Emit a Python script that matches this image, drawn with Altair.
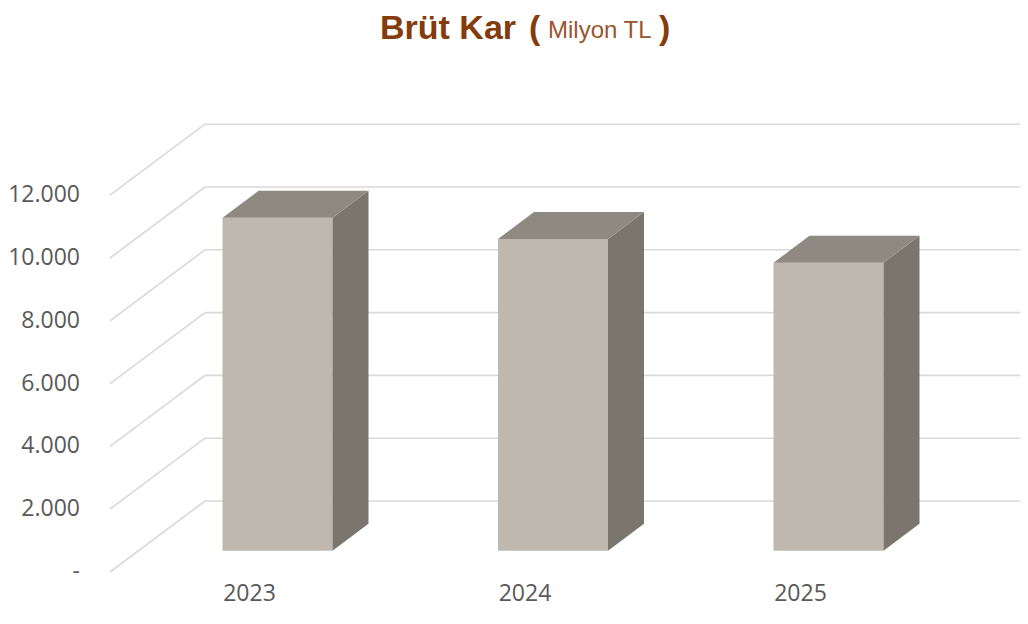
import altair as alt
import pandas as pd

# ---- data ----
years = ["2023", "2024", "2025"]
values = [10600, 9930, 9170]
grid_values = [0, 2000, 4000, 6000, 8000, 10000, 12000]
grid_labels = ["-\u00a0\u00a0", "2.000", "4.000", "6.000", "8.000", "10.000", "12.000"]

# ---- layout / projection constants (style) ----
W, H = 1012, 602
XC0, XSTEP = 277.5, 275.5      # page x of first bar centre, spacing
Y0, PX = 550.7, 0.0314         # page y of bar base, px per unit


def xi(px):
    return (px - XC0) / XSTEP


def yv(py):
    return (Y0 - py) / PX


x_dom = [xi(8), xi(8 + W)]
y_dom = [yv(8 + H), yv(8)]
HALF = 55 / XSTEP
DX = 36 / XSTEP
DY = 27 / PX
FRONT_X, FRONT_OFF = xi(110), yv(572)
BACK_X, BACK_OFF = xi(205), yv(501)

xs = alt.Scale(domain=x_dom, nice=False, zero=False)
ys = alt.Scale(domain=y_dom, nice=False, zero=False)

grid = pd.DataFrame({
    "g": grid_values,
    "label": grid_labels,
})
grid["fx"] = FRONT_X
grid["fy"] = grid["g"] + FRONT_OFF
grid["bx"] = BACK_X
grid["by"] = grid["g"] + BACK_OFF
grid["rx"] = x_dom[1]
grid["lx"] = xi(80)

bars = pd.DataFrame({"year": years, "v": values})
bars["i"] = range(len(years))
bars["x"] = bars["i"] - HALF
bars["x2"] = bars["i"] + HALF
bars["y0"] = 0
bars["lx"] = bars["i"] - 28 / XSTEP
bars["ly"] = yv(8 + H - 4)

side_rows, top_rows = [], []
for i, (yr, v) in enumerate(zip(years, values)):
    side_rows.append({"year": yr, "x": i + HALF, "y": v, "y2": 0})
    side_rows.append({"year": yr, "x": i + HALF + DX, "y": v + DY, "y2": DY})
    top_rows.append({"year": yr, "y": v, "x": i - HALF, "x2": i + HALF})
    top_rows.append({"year": yr, "y": v + DY, "x": i - HALF + DX, "x2": i + HALF + DX})
side = pd.DataFrame(side_rows)
top = pd.DataFrame(top_rows)

GRID_C = "#D9D9D9"

back_lines = alt.Chart(grid).mark_rule(color=GRID_C, strokeWidth=1.6).encode(
    x=alt.X("bx:Q", scale=xs, axis=None),
    x2="rx:Q",
    y=alt.Y("by:Q", scale=ys, axis=None),
)
diag_lines = alt.Chart(grid).mark_rule(color=GRID_C, strokeWidth=1.6).encode(
    x=alt.X("fx:Q", scale=xs, axis=None),
    x2="bx:Q",
    y=alt.Y("fy:Q", scale=ys, axis=None),
    y2="by:Q",
)
y_labels = alt.Chart(grid).mark_text(
    align="right", baseline="middle", font="Open Sans", fontSize=23, color="#595959"
).encode(
    x=alt.X("lx:Q", scale=xs, axis=None),
    y=alt.Y("fy:Q", scale=ys, axis=None),
    text="label:N",
)

front = alt.Chart(bars).mark_rect(color="#BFB8AE").encode(
    x=alt.X("x:Q", scale=xs, axis=None),
    x2="x2:Q",
    y=alt.Y("y0:Q", scale=ys, axis=None),
    y2="v:Q",
)
side_face = alt.Chart(side).mark_area(color="#7A766E").encode(
    x=alt.X("x:Q", scale=xs, axis=None),
    y=alt.Y("y:Q", scale=ys, axis=None),
    y2="y2:Q",
    detail="year:N",
)
top_face = alt.Chart(top).mark_area(color="#8E8981", orient="horizontal").encode(
    y=alt.Y("y:Q", scale=ys, axis=None),
    x=alt.X("x:Q", scale=xs, axis=None),
    x2="x2:Q",
    detail="year:N",
)
x_labels = alt.Chart(bars).mark_text(
    align="center", baseline="bottom", font="Open Sans", fontSize=23, color="#595959"
).encode(
    x=alt.X("lx:Q", scale=xs, axis=None),
    y=alt.Y("ly:Q", scale=ys, axis=None),
    text="year:N",
)

one = pd.DataFrame({"a": [0]})
TITLE_C = "#843C0C"
TF = "Liberation Sans"
t1 = alt.Chart(one).mark_text(
    text="Brüt Kar", align="left", baseline="alphabetic", font=TF,
    fontSize=34, fontWeight="bold", color=TITLE_C
).encode(x=alt.value(372), y=alt.value(31))
t2 = alt.Chart(one).mark_text(
    text="(", align="left", baseline="alphabetic", font=TF,
    fontSize=34, fontWeight="bold", color=TITLE_C
).encode(x=alt.value(521), y=alt.value(31))
t3 = alt.Chart(one).mark_text(
    text="Milyon TL", align="left", baseline="alphabetic", font=TF,
    fontSize=24, color="#9A5530"
).encode(x=alt.value(540), y=alt.value(30))
t4 = alt.Chart(one).mark_text(
    text=")", align="left", baseline="alphabetic", font=TF,
    fontSize=34, fontWeight="bold", color=TITLE_C
).encode(x=alt.value(651), y=alt.value(31))

chart = alt.layer(
    back_lines, diag_lines, y_labels, front, side_face, top_face, x_labels,
    t1, t2, t3, t4
).properties(
    width=W, height=H, autosize="none", padding=0, background="white"
).configure_view(stroke=None)

chart.save("out.html", embed_options={"renderer": "svg", "actions": False})
